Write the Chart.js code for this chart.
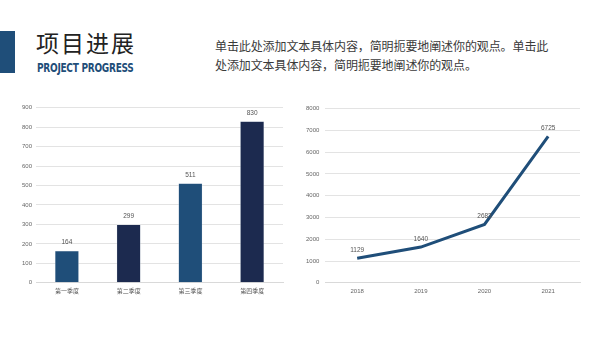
<!DOCTYPE html>
<html>
<head>
<meta charset="utf-8">
<script src="https://cdn.jsdelivr.net/npm/chart.js@4"></script>
<style>
  body { margin: 0; width: 600px; height: 338px; background: #fff; position: relative; overflow: hidden; font-family: "Noto Sans CJK SC", sans-serif; }
  #bar-mark { position: absolute; left: 0; top: 31px; width: 15px; height: 42px; background: #1f4e79; }
  #title { position: absolute; left: 36px; top: 27px; font-size: 23px; letter-spacing: 2px; color: #222; line-height: 30px; }
  #subtitle { position: absolute; left: 37px; top: 61px; font-family: "DejaVu Sans Condensed", sans-serif; font-weight: bold; font-size: 11.5px; color: #1f4e79; letter-spacing: -0.3px; transform: scaleX(0.87); transform-origin: left top; white-space: nowrap; }
  #desc { position: absolute; left: 215px; top: 36px; width: 336px; font-size: 12px; letter-spacing: -0.1px; line-height: 19px; color: #3a3a3a; }
  .box { position: absolute; }
</style>
</head>
<body>
<div id="bar-mark"></div>
<div id="title">项目进展</div>
<div id="subtitle">PROJECT PROGRESS</div>
<div id="desc">单击此处添加文本具体内容，简明扼要地阐述你的观点。单击此处添加文本具体内容，简明扼要地阐述你的观点。</div>
<div class="box" style="left:18px; top:100px; width:268px; height:198px;"><canvas id="barChart"></canvas></div>
<div class="box" style="left:300px; top:99px; width:282px; height:201px;"><canvas id="lineChart"></canvas></div>
<script>
var quarters = ['第一季度', '第二季度', '第三季度', '第四季度'];
var quarterValues = [164, 299, 511, 830];
var barColors = ['#1f4e79', '#1c2a4f', '#1f4e79', '#1c2a4f'];

var years = ['2018', '2019', '2020', '2021'];
var yearValues = [1129, 1640, 2683, 6725];

// draw the value above each bar / point
var valueLabels = {
  id: 'valueLabels',
  afterDatasetsDraw: function(chart) {
    var ctx = chart.ctx;
    ctx.save();
    ctx.font = '6.5px "Liberation Sans", sans-serif';
    ctx.fillStyle = '#555';
    ctx.textAlign = 'center';
    ctx.textBaseline = 'bottom';
    chart.getDatasetMeta(0).data.forEach(function(el, i) {
      ctx.fillText(chart.data.datasets[0].data[i], el.x, el.y - 5);
    });
    ctx.restore();
  }
};

Chart.defaults.font.family = '"Liberation Sans", sans-serif';
Chart.defaults.font.size = 6;
Chart.defaults.color = '#666';

new Chart(document.getElementById('barChart'), {
  type: 'bar',
  data: {
    labels: quarters,
    datasets: [{
      data: quarterValues,
      backgroundColor: barColors,
      borderColor: '#dfe6ee',
      borderWidth: 0.5,
      categoryPercentage: 1,
      barPercentage: 0.39
    }]
  },
  options: {
    responsive: true,
    maintainAspectRatio: false,
    animation: false,
    layout: { padding: { top: 2, right: 3 } },
    plugins: { legend: { display: false }, tooltip: { enabled: false } },
    scales: {
      x: {
        grid: { display: false, drawTicks: false },
        border: { color: '#d9d9d9' },
        ticks: { font: { family: '"Noto Sans CJK SC", sans-serif', size: 6 }, color: '#555', padding: 4 }
      },
      y: {
        min: 0, max: 900,
        ticks: { stepSize: 100, padding: 4 },
        grid: { color: '#e3e3e3', drawTicks: false },
        border: { display: false }
      }
    }
  },
  plugins: [valueLabels]
});

new Chart(document.getElementById('lineChart'), {
  type: 'line',
  data: {
    labels: years,
    datasets: [{
      data: yearValues,
      borderColor: '#1f4e79',
      borderWidth: 3,
      pointRadius: 0,
      fill: false,
      tension: 0
    }]
  },
  options: {
    responsive: true,
    maintainAspectRatio: false,
    animation: false,
    layout: { padding: { top: 2, right: 2 } },
    plugins: { legend: { display: false }, tooltip: { enabled: false } },
    scales: {
      x: {
        offset: true,
        grid: { display: false, drawTicks: false },
        border: { color: '#d9d9d9' },
        ticks: { padding: 5 }
      },
      y: {
        min: 0, max: 8000,
        ticks: { stepSize: 1000, padding: 6, callback: function(v) { return String(v); } },
        grid: { color: '#e3e3e3', drawTicks: false },
        border: { display: false }
      }
    }
  },
  plugins: [valueLabels]
});
</script>
</body>
</html>
